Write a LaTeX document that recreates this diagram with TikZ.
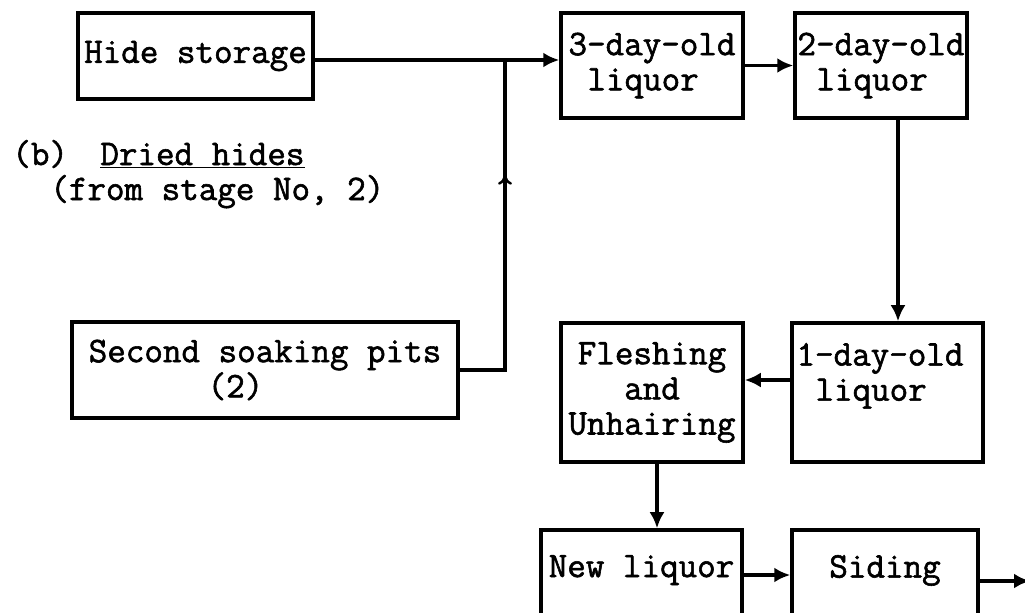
\documentclass[tikz,border=0pt]{standalone}
\usepackage{fontspec}
\newfontfamily\typew{Latin Modern Mono}[FakeBold=1.6]
\usetikzlibrary{arrows.meta,calc,positioning}
\tikzset{
  tw/.style={font=\typew\fontsize{20.5}{20}\selectfont},
  blk/.style={draw,line width=2pt,inner sep=0pt,align=left,tw},
  toptxt/.style={anchor=north,inner sep=0pt,align=left,tw},
  arr/.style={line width=2pt,-{Latex[length=0.32cm,width=0.3cm]}}
}

\begin{document}
\begin{tikzpicture}
\useasboundingbox (0,0) rectangle (20.5,-12.24);
% boxes
\node[blk,minimum width=4.7cm,minimum height=1.72cm] (hide) at (3.91,-1.12) {Hide storage};
\node[blk,minimum width=3.64cm,minimum height=2.1cm] (three) at (13.04,-1.31) {3-day-old\\\hspace*{0.525em}liquor};
\node[blk,minimum width=3.44cm,minimum height=2.1cm] (two) at (17.62,-1.31) {2-day-old\\\hspace*{0.525em}liquor};
\node[blk,minimum width=3.82cm,minimum height=2.78cm,label={[toptxt,yshift=-0.43cm,xshift=-0.15cm]north:1-day-old\\\hspace*{0.525em}liquor}] (one) at (17.75,-7.85) {};
\node[blk,align=center,minimum width=3.64cm,minimum height=2.78cm] (flesh) at (13.04,-7.85) {Fleshing\\and\\Unhairing};
\node[blk,minimum width=7.72cm,minimum height=1.92cm] (soak) at (5.3,-7.4) {Second soaking pits\\\hspace*{3.3em}(2)};
\node[blk,minimum width=4.02cm,minimum height=2.4cm,label={[toptxt,yshift=-0.53cm]north:New liquor}] (newl) at (12.83,-11.8) {};
\node[blk,minimum width=3.72cm,minimum height=2.4cm,label={[toptxt,yshift=-0.53cm]north:Siding}] (side) at (17.7,-11.8) {};
% free text
\node[tw,anchor=base west,inner sep=0pt] (dried) at (0.24,-3.3) {(b)\hspace*{0.9em}\underline{Dried hides}};
\node[tw,anchor=base west,inner sep=0pt] (stage) at (1.0,-4.0) {(from stage No, 2)};
% connectors
\coordinate (join) at (10.1,-1.2);
\coordinate (out) at (20.6,-11.62);
\draw[arr] ([yshift=-0.08cm]hide.east) -- ([yshift=-0.08cm]hide.east -| three.west);
\draw[line width=2pt] (soak.east) -| (join);
\draw[line width=1.4pt,-{To[length=0.2cm,width=0.28cm]}] (soak.east -| join) -- ($(join)!0.37!(soak.east -| join)$);
\draw[arr] (three.east) -- (two.west);
\draw[arr] ([xshift=0.34cm]two.south) -- ([xshift=0.34cm]two.south |- one.north);
\draw[arr] ([yshift=0.25cm]one.west) -- ([yshift=0.25cm]one.west -| flesh.east);
\draw[arr] ([xshift=0.1cm]flesh.south) -- ([xshift=0.1cm]flesh.south |- newl.north);
\draw[arr] ([yshift=0.3cm]newl.east) -- ([yshift=0.3cm]newl.east -| side.west);
\draw[arr] (side.east |- out) -- (out);
\end{tikzpicture}
\end{document}
